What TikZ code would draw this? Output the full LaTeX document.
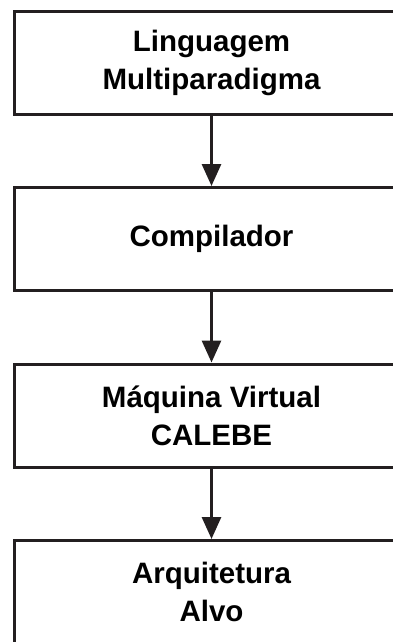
\documentclass[tikz,border=0pt]{standalone}
\usepackage{fontspec}
\setmainfont{Liberation Sans}
\usetikzlibrary{arrows.meta}
\definecolor{ink}{HTML}{231F20}
\begin{document}
\begin{tikzpicture}[x=1pt,y=1pt,
  blk/.style={draw=ink, line width=3pt, minimum width=394pt, minimum height=103pt,
    inner sep=0pt, align=center, text=black,
    font=\fontsize{29.5}{38}\selectfont\bfseries},
  conn/.style={draw=ink, line width=3pt, -{Triangle[length=22pt,width=19pt]}}]
\useasboundingbox (0,0) rectangle (393,-642);
\clip (0,0) rectangle (393,-642);
\node[blk] (n1) at (211.5,-62.75) {Linguagem\\Multiparadigma};
\node[blk] (n2) at (211.5,-239) {Compilador};
\node[blk] (n3) at (211.5,-415.5) {Máquina Virtual\\CALEBE};
\node[blk] (n4) at (211.5,-592) {Arquitetura\\Alvo};
\draw[conn] (n1.south) -- (n2.north);
\draw[conn] (n2.south) -- (n3.north);
\draw[conn] (n3.south) -- (n4.north);
\end{tikzpicture}
\end{document}
